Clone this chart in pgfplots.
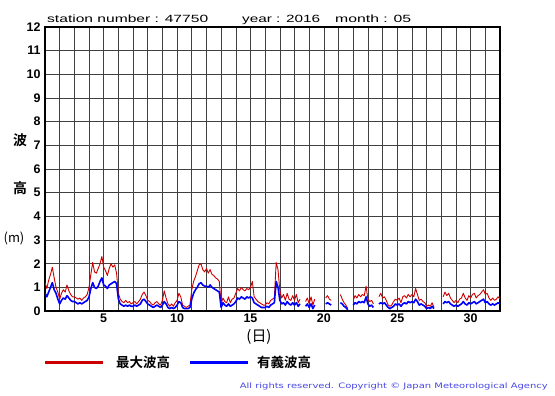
\documentclass[border=0pt]{standalone}
\usepackage{fontspec}
\setmainfont{Liberation Sans}
\newfontfamily\cjk{Noto Sans CJK JP}
\newfontfamily\cjkb{Noto Sans CJK JP Bold}
\newfontfamily\cfont{DejaVu Sans}
\usepackage{graphicx}
\usepackage{pgfplots}
\usepackage{pgfplotstable}
\pgfplotsset{compat=1.18}
\definecolor{hmred}{RGB}{204,0,0}
\definecolor{hsblue}{RGB}{0,0,255}
\definecolor{cpblue}{RGB}{70,70,230}
\pgfplotstableread[row sep=\\]{
d hs hm\\
1.000 0.75 1.20\\ 1.125 0.60 0.95\\ 1.250 0.80 1.30\\ 1.375 1.00 1.55\\ 1.500 1.20 1.85\\ 1.625 0.90 1.40\\ 1.750 0.75 1.00\\ 1.875 0.50 0.80\\
2.000 0.30 0.50\\ 2.125 0.45 0.75\\ 2.250 0.55 0.90\\ 2.375 0.50 0.80\\ 2.500 0.65 1.10\\ 2.625 0.55 0.85\\ 2.750 0.45 0.70\\ 2.875 0.40 0.60\\
3.000 0.40 0.60\\ 3.125 0.35 0.55\\ 3.250 0.30 0.50\\ 3.375 0.35 0.55\\ 3.500 0.30 0.45\\ 3.625 0.35 0.55\\ 3.750 0.40 0.60\\ 3.875 0.45 0.70\\
4.000 0.60 1.00\\ 4.125 0.95 1.55\\ 4.250 1.20 2.05\\ 4.375 1.00 1.65\\ 4.500 0.95 1.60\\ 4.625 1.05 1.80\\ 4.750 1.25 2.00\\ 4.875 1.40 2.30\\
5.000 1.10 1.85\\ 5.125 1.05 1.70\\ 5.250 0.95 1.50\\ 5.375 1.10 1.80\\ 5.500 1.15 2.00\\ 5.625 1.20 1.85\\ 5.750 1.25 1.95\\ 5.875 1.15 1.60\\
6.000 0.50 0.75\\ 6.125 0.30 0.50\\ 6.250 0.25 0.40\\ 6.375 0.20 0.35\\ 6.500 0.25 0.45\\ 6.625 0.20 0.35\\ 6.750 0.25 0.40\\ 6.875 0.20 0.30\\
7.000 0.20 0.35\\ 7.125 0.25 0.40\\ 7.250 0.20 0.30\\ 7.375 0.25 0.40\\ 7.500 0.30 0.50\\ 7.625 0.45 0.70\\ 7.750 0.50 0.80\\ 7.875 0.40 0.65\\
8.000 0.30 0.45\\ 8.125 0.25 0.40\\ 8.250 0.20 0.30\\ 8.375 0.15 0.25\\ 8.500 0.20 0.35\\ 8.625 0.25 0.40\\ 8.750 0.20 0.30\\ 8.875 0.15 0.25\\
9.000 0.25 0.45\\ 9.125 0.40 0.85\\ 9.250 0.30 0.55\\ 9.375 0.15 0.30\\ 9.500 0.10 0.20\\ 9.625 0.15 0.30\\ 9.750 0.10 0.20\\ 9.875 0.15 0.35\\
10.000 0.25 0.45\\ 10.125 0.40 0.75\\ 10.250 0.35 0.60\\ 10.375 0.15 0.25\\ 10.500 0.10 0.20\\ 10.625 0.10 0.15\\ 10.750 0.10 0.20\\ 10.875 0.15 0.25\\
11.000 0.50 0.90\\ 11.125 0.75 1.25\\ 11.250 0.90 1.45\\ 11.375 1.00 1.70\\ 11.500 1.15 1.95\\ 11.625 1.20 2.00\\ 11.750 1.10 1.75\\ 11.875 1.05 1.65\\
12.000 1.05 1.80\\ 12.125 1.00 1.60\\ 12.250 1.10 1.75\\ 12.375 1.00 1.55\\ 12.500 0.95 1.50\\ 12.625 0.90 1.40\\ 12.750 0.85 1.35\\ 12.875 0.80 1.25\\
13.000 0.15 0.30\\ 13.125 0.35 0.55\\ 13.250 0.25 0.40\\ 13.375 0.20 0.35\\ 13.500 0.30 0.60\\ 13.625 0.20 0.35\\ 13.750 0.25 0.50\\ 13.875 0.30 0.55\\
14.000 0.40 0.75\\ 14.125 0.55 0.95\\ 14.250 0.50 0.85\\ 14.375 0.60 1.00\\ 14.500 0.55 0.90\\ 14.625 0.50 0.85\\ 14.750 0.60 0.95\\ 14.875 0.55 0.90\\
15.000 0.60 1.00\\ 15.125 0.55 1.25\\ 15.250 0.35 0.60\\ 15.375 0.30 0.50\\ 15.500 0.25 0.40\\ 15.625 0.20 0.35\\ 15.750 0.15 0.30\\ 15.875 0.15 0.25\\
16.000 0.15 0.25\\ 16.125 0.20 0.35\\ 16.250 0.15 0.30\\ 16.375 0.25 0.45\\ 16.500 0.30 0.50\\ 16.625 0.35 0.55\\ 16.750 1.25 2.05\\ 16.875 1.00 1.75\\
17.000 0.45 0.85\\ 17.125 0.30 0.55\\ 17.250 0.35 0.70\\ 17.375 0.25 0.45\\ 17.500 0.40 0.75\\ 17.625 0.30 0.50\\ 17.750 0.25 0.45\\ 17.875 0.35 0.65\\
18.000 0.25 0.45\\ 18.125 0.35 0.70\\ 18.250 0.20 0.35\\ 18.375 0.30 0.50\\ 18.500 nan nan\\ 18.625 nan nan\\ 18.750 0.20 0.40\\ 18.875 0.30 0.55\\
19.000 0.15 0.30\\ 19.125 0.30 0.60\\ 19.250 0.10 0.25\\ 19.375 0.25 0.50\\ 19.500 nan nan\\ 19.625 nan nan\\ 19.750 nan nan\\ 19.875 nan nan\\
20.000 nan nan\\ 20.125 0.30 0.55\\ 20.250 0.35 0.65\\ 20.375 0.30 0.50\\ 20.500 0.25 0.45\\ 20.625 nan nan\\ 20.750 nan nan\\ 20.875 nan nan\\
21.000 nan nan\\ 21.125 0.35 0.70\\ 21.250 0.30 0.50\\ 21.375 0.20 0.35\\ 21.500 0.15 0.25\\ 21.625 0.05 0.10\\ 21.750 nan nan\\ 21.875 nan nan\\
22.000 0.25 0.45\\ 22.125 0.35 0.65\\ 22.250 0.30 0.55\\ 22.375 0.40 0.70\\ 22.500 0.35 0.60\\ 22.625 0.40 0.70\\ 22.750 0.35 0.65\\ 22.875 0.60 1.05\\
23.000 0.30 0.50\\ 23.125 0.20 0.40\\ 23.250 0.25 0.45\\ 23.375 0.15 0.30\\ 23.500 nan nan\\ 23.625 nan nan\\ 23.750 0.30 0.60\\ 23.875 0.35 0.75\\
24.000 0.30 0.55\\ 24.125 0.35 0.60\\ 24.250 0.25 0.45\\ 24.375 0.15 0.25\\ 24.500 0.10 0.20\\ 24.625 0.15 0.25\\ 24.750 0.20 0.40\\ 24.875 0.30 0.50\\
25.000 0.25 0.45\\ 25.125 0.30 0.55\\ 25.250 0.20 0.35\\ 25.375 0.30 0.60\\ 25.500 0.35 0.65\\ 25.625 0.30 0.55\\ 25.750 0.40 0.70\\ 25.875 0.35 0.60\\
26.000 0.40 0.70\\ 26.125 0.35 0.60\\ 26.250 0.50 0.95\\ 26.375 0.40 0.70\\ 26.500 0.25 0.45\\ 26.625 0.30 0.50\\ 26.750 0.25 0.40\\ 26.875 0.20 0.35\\
27.000 0.10 0.20\\ 27.125 0.15 0.25\\ 27.250 0.10 0.20\\ 27.375 0.20 0.35\\ 27.500 0.10 0.15\\ 27.625 nan nan\\ 27.750 nan nan\\ 27.875 nan nan\\
28.000 nan nan\\ 28.125 0.30 0.60\\ 28.250 0.40 0.80\\ 28.375 0.35 0.65\\ 28.500 0.40 0.75\\ 28.625 0.30 0.55\\ 28.750 0.25 0.45\\ 28.875 0.20 0.35\\
29.000 0.25 0.45\\ 29.125 0.20 0.35\\ 29.250 0.25 0.50\\ 29.375 0.30 0.55\\ 29.500 0.40 0.75\\ 29.625 0.30 0.55\\ 29.750 0.25 0.45\\ 29.875 0.35 0.65\\
30.000 0.30 0.55\\ 30.125 0.35 0.70\\ 30.250 0.40 0.75\\ 30.375 0.30 0.55\\ 30.500 0.35 0.65\\ 30.625 0.40 0.70\\ 30.750 0.45 0.80\\ 30.875 0.50 0.90\\
31.000 0.35 0.70\\ 31.125 0.40 0.75\\ 31.250 0.30 0.55\\ 31.375 0.25 0.45\\ 31.500 0.30 0.55\\ 31.625 0.25 0.45\\ 31.750 0.30 0.50\\ 31.875 0.35 0.60\\
32.000 0.30 0.50\\
}\wavedata
\begin{document}
\begin{tikzpicture}[x=1bp,y=1bp]
\path[use as bounding box] (0,0) rectangle (555,395);
\begin{axis}[
  at={(45bp,84bp)}, anchor=south west,
  scale only axis, width=455bp, height=284bp,
  xmin=1, xmax=32, ymin=0, ymax=12,
  xtick={5,10,15,20,25,30},
  minor xtick={2,3,4,6,7,8,9,11,12,13,14,16,17,18,19,21,22,23,24,26,27,28,29,31},
  ytick={0,1,...,12},
  grid=both,
  major grid style={black!75, line width=0.6bp},
  minor grid style={black!75, line width=0.6bp},
  major tick length=0pt, minor tick length=0pt,
  axis line style={black, line width=1.4bp},
  /pgf/number format/assume math mode=true,
  tick label style={font=\fontsize{12.5}{14}\selectfont\bfseries},
  yticklabel style={xshift=-1bp},
  xticklabel style={yshift=1bp},
  unbounded coords=jump,
  clip=true,
]
\addplot[hmred, line width=0.9bp, line join=round] table[x=d, y=hm]{\wavedata};
\addplot[hsblue, line width=1.6bp, line join=round] table[x=d, y=hs]{\wavedata};
\end{axis}
% title
\node[anchor=base west, inner sep=0pt, font=\fontsize{10.5}{12}\selectfont] at (47,373) {\resizebox{161bp}{\height}{station number : 47750}};
\node[anchor=base west, inner sep=0pt, font=\fontsize{10.5}{12}\selectfont] at (242,373) {\resizebox{78bp}{\height}{year : 2016}};
\node[anchor=base west, inner sep=0pt, font=\fontsize{10.5}{12}\selectfont] at (335,373) {\resizebox{76bp}{\height}{month : 05}};
% y label
\node[font=\fontsize{14}{16}\selectfont\cjkb] at (20,255) {波};
\node[font=\fontsize{14}{16}\selectfont\cjkb] at (20,207) {高};
\node[font=\fontsize{13}{15}\selectfont\cjk] at (14,157) {(m)};
% x label
\node[font=\fontsize{15}{17}\selectfont\cjk] at (259,58) {(日)};
% legend
\draw[hmred, line width=3bp] (45,33) -- (103,33);
\node[anchor=west, inner sep=0pt, font=\fontsize{13.5}{15}\selectfont\cjkb] at (116,33) {最大波高};
\draw[hsblue, line width=3bp] (190,33) -- (248,33);
\node[anchor=west, inner sep=0pt, font=\fontsize{13.5}{15}\selectfont\cjkb] at (257,33) {有義波高};
% copyright
\node[anchor=base east, text=cpblue, font=\fontsize{7.5}{9}\selectfont\cfont, inner sep=0pt] at (548,7) {\resizebox{308bp}{\height}{All rights reserved. Copyright © Japan Meteorological Agency}};
\end{tikzpicture}
\end{document}
